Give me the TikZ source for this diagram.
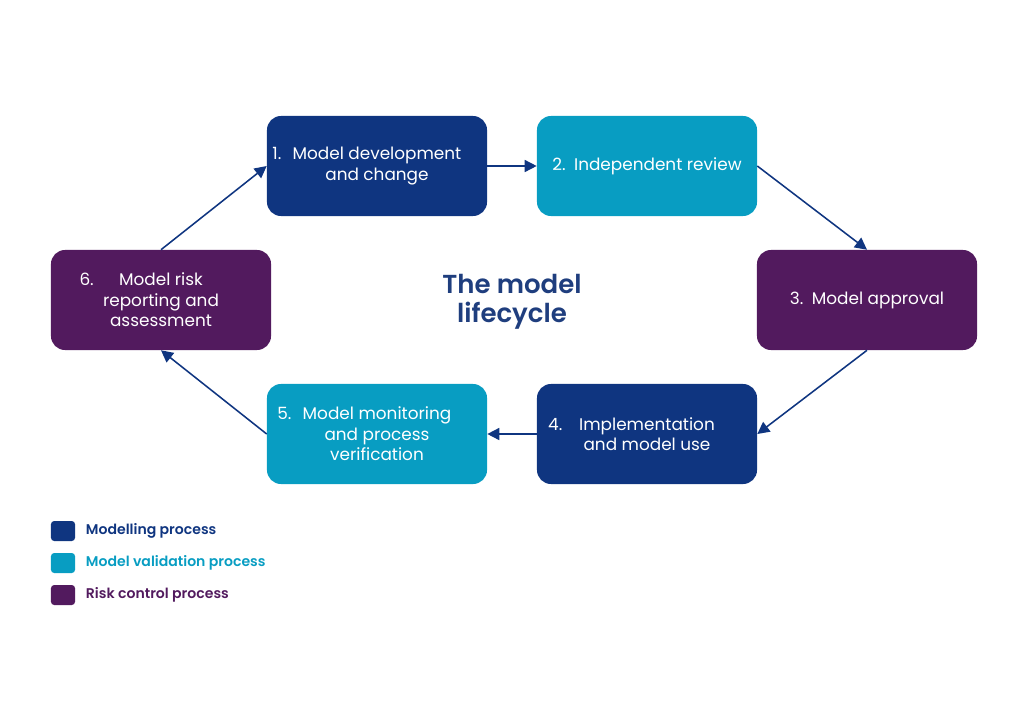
\documentclass[tikz,border=0pt]{standalone}
\usepackage{fontspec}
\IfFontExistsTF{Poppins SemiBold}
  {\setmainfont{Poppins}[BoldFont={Poppins SemiBold}]}
  {\setmainfont{Poppins}}
\usepackage{tikz}
\usetikzlibrary{arrows.meta}
\definecolor{modelblue}{HTML}{0F3580}
\definecolor{titleblue}{HTML}{1F3E7E}
\definecolor{validcyan}{HTML}{089DC2}
\definecolor{riskpurple}{HTML}{521A5E}
% hanging step number
\newcommand{\stepno}[2]{\llap{#1\hspace{#2}}}

\begin{document}
\begin{tikzpicture}[x=0.025cm, y=-0.025cm,
  stage/.style={rounded corners=0.35cm, minimum width=5.5cm, minimum height=2.5cm,
    text=white, align=center, font=\fontsize{12}{14.5}\selectfont},
  flow/.style={modelblue, line width=1.1pt, -{Triangle[length=0.3cm, width=0.3cm]}},
  keybox/.style={rounded corners=0.08cm, minimum width=0.6cm, minimum height=0.5cm, inner sep=0pt},
  keytext/.style={anchor=west, font=\fontsize{10}{12}\selectfont\bfseries}]

\useasboundingbox (0,0) rectangle (1024,724);

% Stages
\node[stage, fill=modelblue]  (s1) at (377,166) {\stepno{1.}{8pt}Model development\\ and change};
\node[stage, fill=validcyan]  (s2) at (647,166) {2.\enspace Independent review};
\node[stage, fill=riskpurple] (s3) at (867,300) {3.\enspace Model approval};
\node[stage, fill=modelblue]  (s4) at (647,434) {\stepno{4.}{12pt}Implementation\\ and model use};
\node[stage, fill=validcyan]  (s5) at (377,434) {\stepno{5.}{8pt}Model monitoring\\ and process\\ verification};
\node[stage, fill=riskpurple] (s6) at (161,300) {\stepno{6.}{18pt}Model risk\\ reporting and\\ assessment};

% Title
\node[text=titleblue, align=center, font=\fontsize{18.5}{21}\selectfont\bfseries] (title) at (512,302) {The model\\ lifecycle};

% Cycle
\draw[flow] (s1.east) -- (s2.west);
\draw[flow] (s2.east) -- (s3.north);
\draw[flow] (s3.south) -- (s4.east);
\draw[flow] (s4.west) -- (s5.east);
\draw[flow] (s5.west) -- (s6.south);
\draw[flow] (s6.north) -- (s1.west);

% Legend
\node[keybox, fill=modelblue]  (k1) at (63,531) {};
\node[keybox, fill=validcyan]  (k2) at (63,563) {};
\node[keybox, fill=riskpurple] (k3) at (63,595) {};
\node[keytext, text=modelblue]  (t1) at (81,531) {Modelling process};
\node[keytext, text=validcyan]  (t2) at (81,563) {Model validation process};
\node[keytext, text=riskpurple] (t3) at (81,595) {Risk control process};

\end{tikzpicture}
\end{document}
